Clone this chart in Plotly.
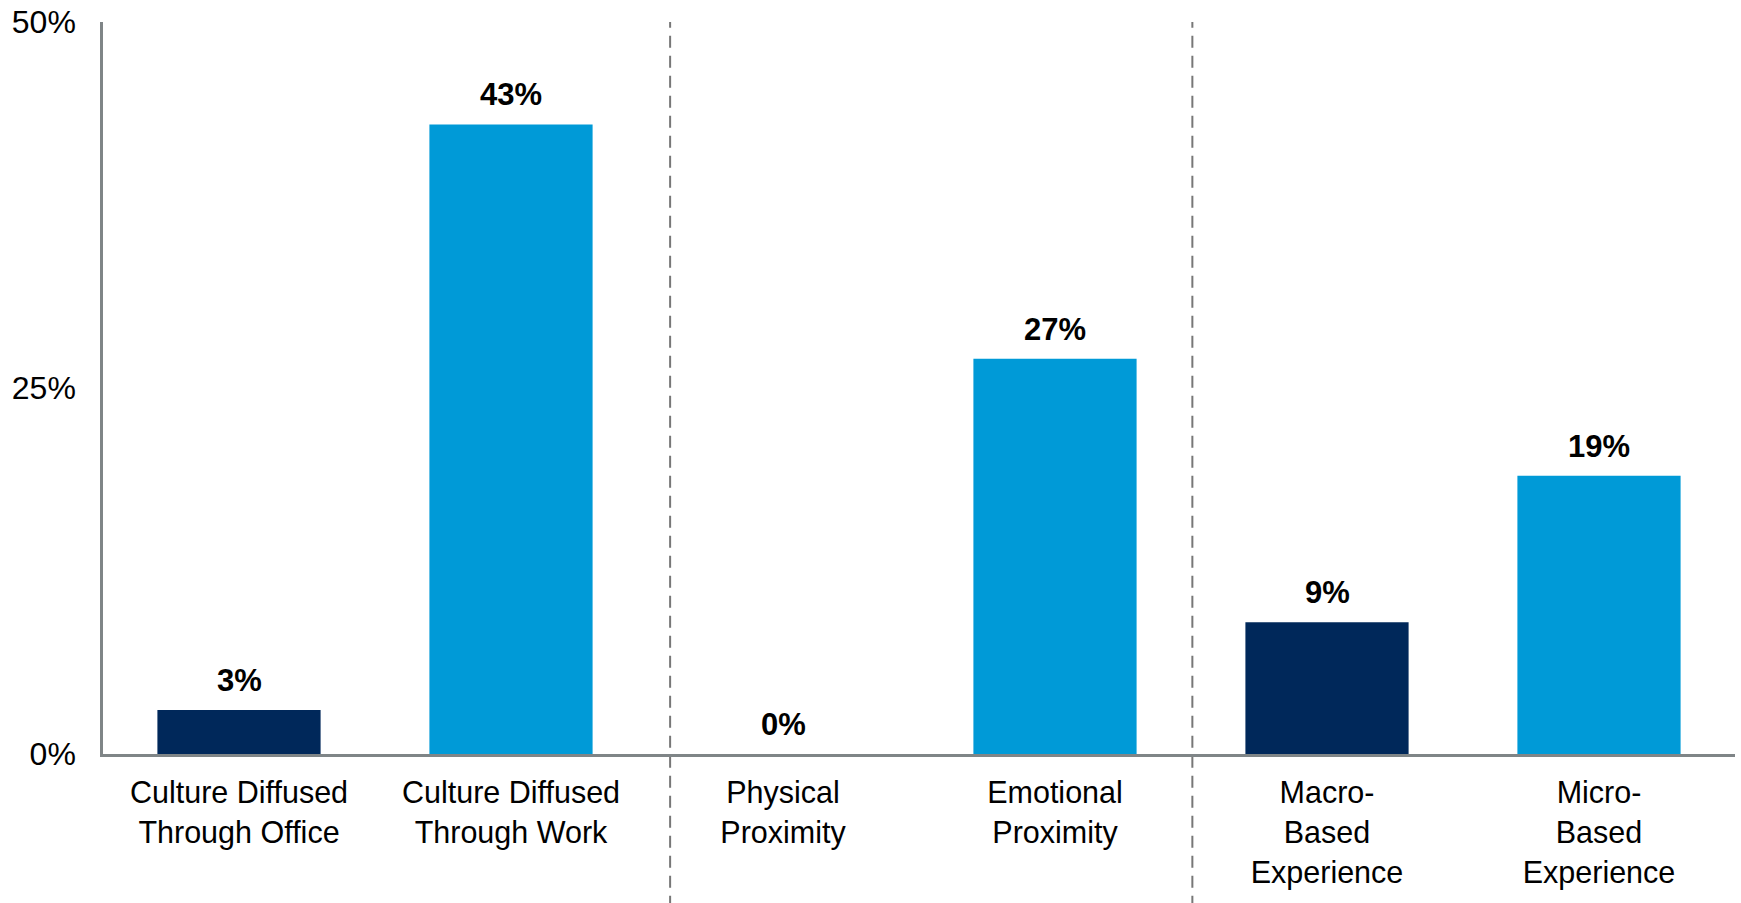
import plotly.graph_objects as go

categories = [
    "Culture Diffused<br>Through Office",
    "Culture Diffused<br>Through Work",
    "Physical<br>Proximity",
    "Emotional<br>Proximity",
    "Macro-<br>Based<br>Experience",
    "Micro-<br>Based<br>Experience",
]
values = [3, 43, 0, 27, 9, 19]
bar_colors = ["#00285A", "#009AD7", "#00285A", "#009AD7", "#00285A", "#009AD7"]
value_labels = [f"{v}%" for v in values]
divider_positions = [1.585, 3.505]
y_ticks = [0, 25, 50]
y_tick_labels = ["0%", "25%", "50%"]

FONT = "Liberation Sans, Arial, sans-serif"

fig = go.Figure(
    go.Bar(
        x=list(range(len(categories))),
        y=values,
        marker=dict(color=bar_colors, line=dict(width=0)),
        width=0.6,
        hoverinfo="skip",
    )
)

for i, (v, lab) in enumerate(zip(values, value_labels)):
    fig.add_annotation(
        x=i, y=v, xref="x", yref="y",
        text=f"<b>{lab}</b>", showarrow=False,
        yanchor="bottom", yshift=10,
        font=dict(family=FONT, size=31, color="#000000"),
    )

for xp in divider_positions:
    fig.add_shape(
        type="line", xref="x", yref="paper",
        x0=xp, x1=xp, y0=-0.21, y1=1.0,
        line=dict(color="#777777", width=2, dash="12px,8px"),
        layer="below",
    )

fig.update_layout(
    width=1741, height=903,
    margin=dict(l=103, r=6, t=22, b=149, autoexpand=False),
    paper_bgcolor="white", plot_bgcolor="white",
    showlegend=False,
    font=dict(family=FONT, color="#000000"),
)
fig.update_xaxes(
    tickmode="array",
    tickvals=list(range(len(categories))),
    ticktext=categories,
    range=[-0.5, len(categories) - 0.5],
    showline=True, linecolor="#7F8587", linewidth=2.5,
    showgrid=False, zeroline=False, ticks="",
    tickfont=dict(family=FONT, size=30.5, color="#000000"),
    ticklabelstandoff=10,
    tickangle=0,
    automargin=False,
)
fig.update_yaxes(
    range=[0, 50],
    tickmode="array", tickvals=y_ticks, ticktext=y_tick_labels,
    showline=True, linecolor="#7F8587", linewidth=2.5,
    showgrid=False, zeroline=False, ticks="",
    tickfont=dict(family=FONT, size=32, color="#000000"),
    ticklabelstandoff=18,
    ticklabeloverflow="allow",
    automargin=False,
)

fig.write_html(
    "out.html",
    config={"displayModeBar": False},
    post_script="document.body.style.margin='0';document.body.style.overflow='hidden';",
)
